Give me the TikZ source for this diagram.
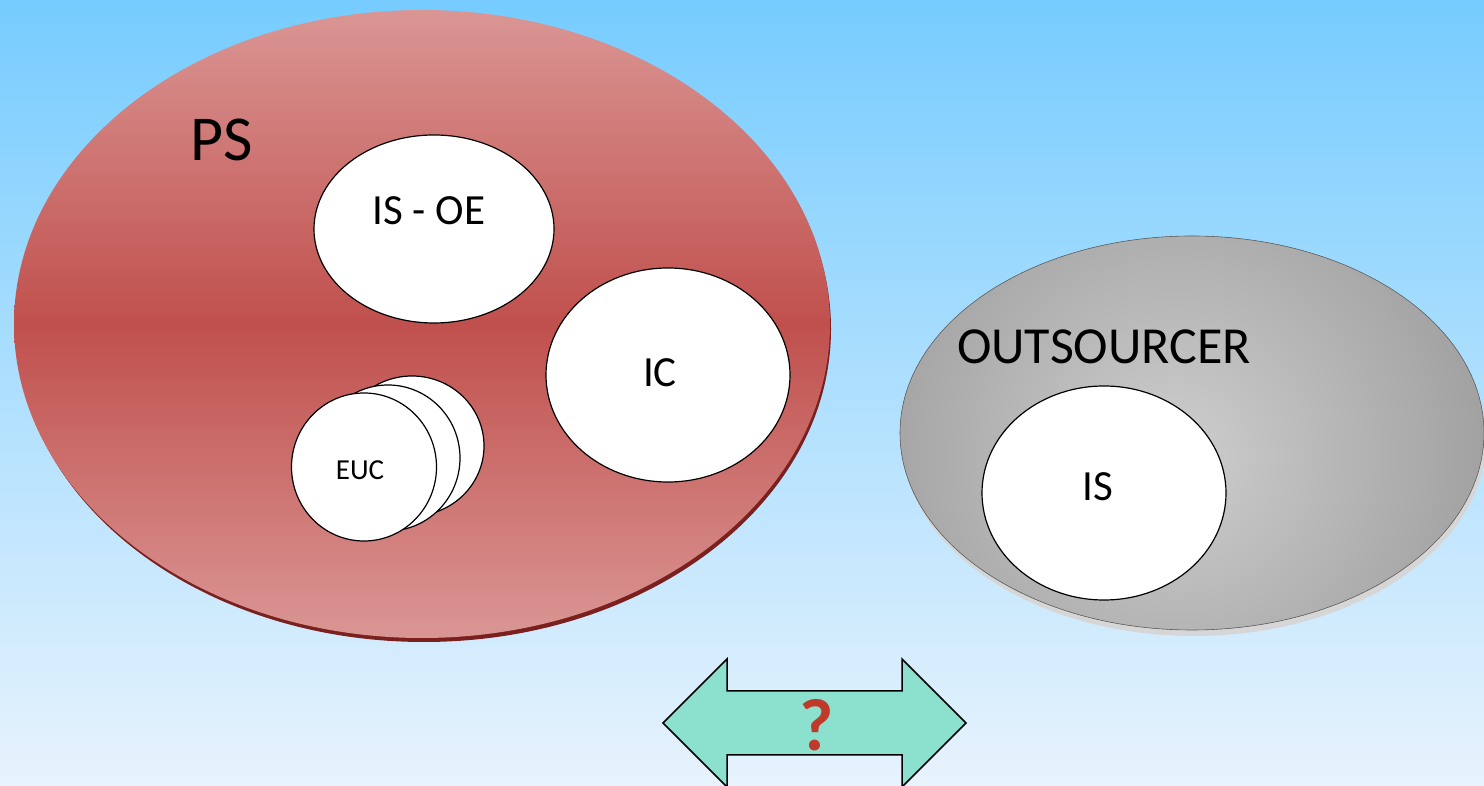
\documentclass[tikz,border=0pt]{standalone}
\usepackage{fontspec}
\setmainfont{Carlito}
\usetikzlibrary{shapes.geometric}

\begin{document}
\begin{tikzpicture}[x=1pt,y=1pt,
  disc/.style={ellipse,draw=black,line width=1.2pt,fill=white,inner sep=0pt,outer sep=0pt},
  lbl/.style={inner sep=0pt,outer sep=0pt,text=black}]
\definecolor{skyTop}{RGB}{118,204,255}
\definecolor{skyBottom}{RGB}{232,243,253}
\definecolor{psLight}{RGB}{218,150,148}
\definecolor{psMid}{RGB}{192,80,77}
\definecolor{psRim}{RGB}{122,32,30}
\definecolor{osLight}{RGB}{206,206,206}
\definecolor{osDark}{RGB}{120,120,120}
\definecolor{osRim}{RGB}{214,214,214}
\definecolor{arrowFill}{RGB}{140,224,206}
\definecolor{askColor}{RGB}{192,58,44}

\path[use as bounding box] (0,0) rectangle (1484,786);
\shade[top color=skyTop,bottom color=skyBottom] (0,0) rectangle (1484,786);

\fill[psRim] (424,457) ellipse [x radius=407pt,y radius=313pt];
\shade[top color=psLight,bottom color=psLight,middle color=psMid] (422,462) ellipse [x radius=408pt,y radius=314pt];

\fill[osRim] (1194,347) ellipse [x radius=292pt,y radius=197pt];
\begin{scope}
\path[clip] (1192,353) ellipse [x radius=292pt,y radius=197pt];
\fill[osDark] (1192,353) ellipse [x radius=292pt,y radius=197pt];
\shade[inner color=osLight,outer color=osDark] (1175,330) circle (600pt);
\end{scope}
\path[draw=osDark!80!black,line width=0.6pt] (1192,353) ellipse [x radius=292pt,y radius=197pt];

\node[lbl,font=\fontsize{64}{64}\selectfont] (ps) at (222,646) {PS};

\node[disc,minimum width=240pt,minimum height=188pt] (isoe) at (434,557) {};
\node[lbl,font=\fontsize{43}{43}\selectfont] (isoetxt) at (429,575) {IS - OE};

\node[disc,minimum width=244pt,minimum height=214pt] (ic) at (668,411) {};
\node[lbl,font=\fontsize{43}{43}\selectfont] (ictxt) at (660,413) {IC};

\node[disc,minimum width=144pt,minimum height=140pt] (euc3) at (412,340) {};
\node[disc,minimum width=144pt,minimum height=146pt] (euc2) at (388,328) {};
\node[disc,minimum width=145pt,minimum height=148pt] (euc1) at (364,319) {};
\node[lbl,font=\fontsize{29}{29}\selectfont] (euctxt) at (360,316) {EUC};

\node[lbl,font=\fontsize{52}{52}\selectfont] (out) at (1104,439) {OUTSOURCER};

\node[disc,minimum width=244pt,minimum height=214pt] (is) at (1104,293) {};
\node[lbl,font=\fontsize{43}{43}\selectfont] (istxt) at (1098,299) {IS};

\path[draw=black,line width=1.5pt,fill=arrowFill,line join=miter]
  (663,63) -- (727,127) -- (727,95) -- (902,95) -- (902,127) -- (966,63)
  -- (902,-1) -- (902,31) -- (727,31) -- (727,-1) -- cycle;
\node[lbl,text=askColor,font=\bfseries\fontsize{74}{74}\selectfont] (ask) at (817,61) {?};
\end{tikzpicture}
\end{document}
